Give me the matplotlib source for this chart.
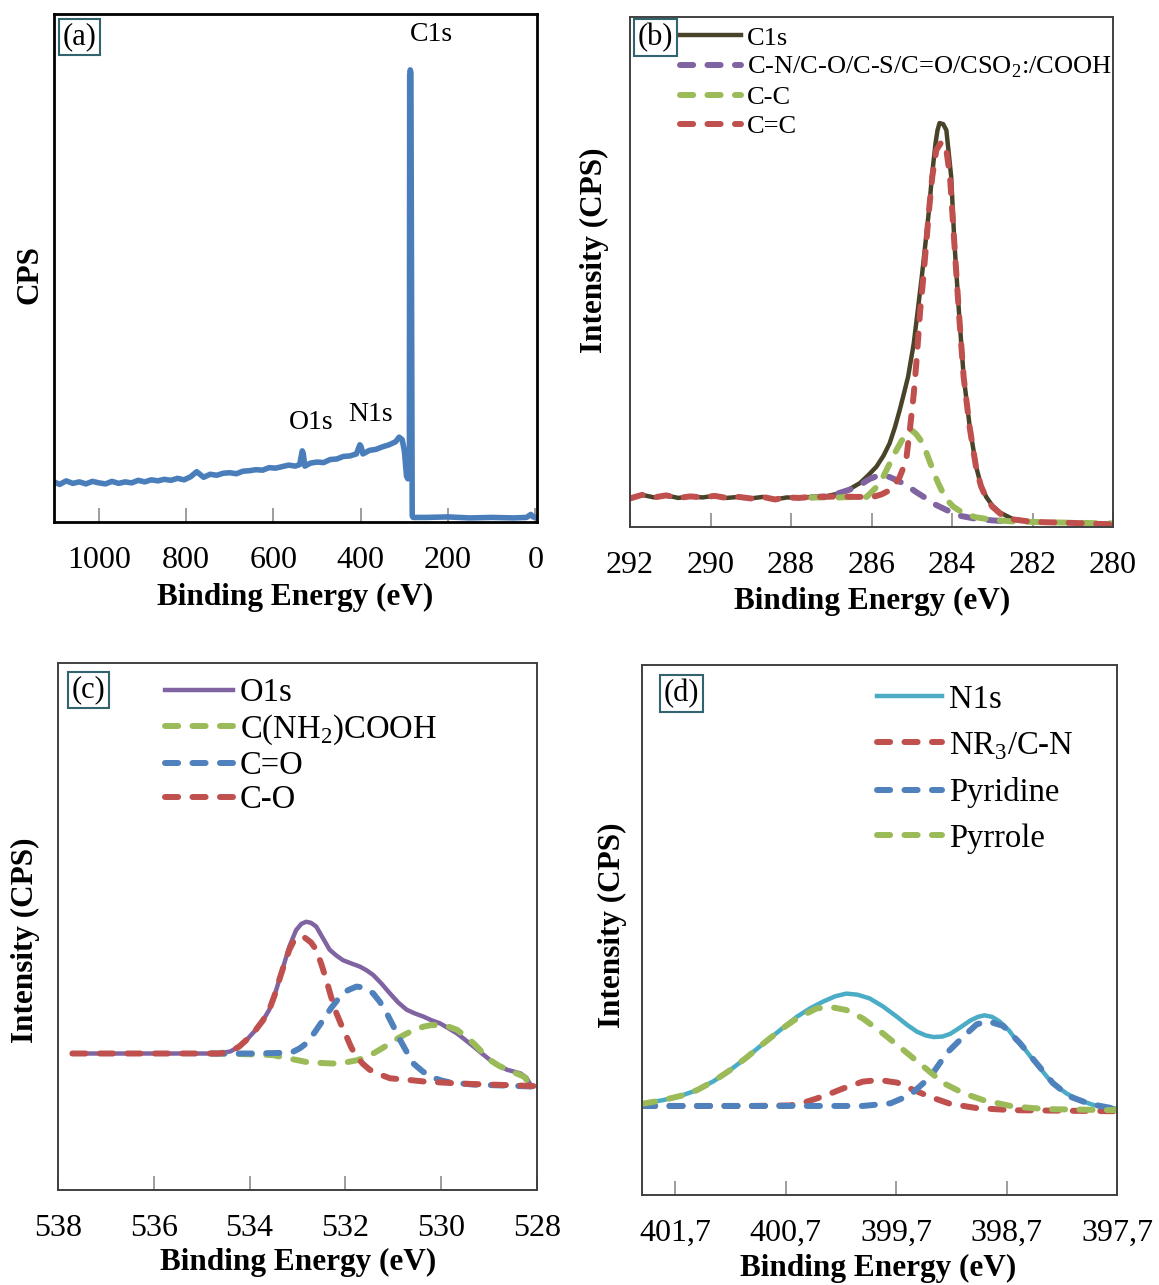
import matplotlib.pyplot as plt

plt.rcParams['font.family'] = ['Liberation Serif', 'DejaVu Serif']
plt.rcParams['mathtext.fontset'] = 'custom'
plt.rcParams['mathtext.rm'] = 'Liberation Serif'

# ---------------- (a) survey spectrum ----------------
a_energy = [1103, 1090, 1075, 1060, 1045, 1030, 1015, 1000, 985, 970, 955, 940, 925, 910,
            895, 880, 865, 850, 835, 820, 805, 790, 776, 760, 745, 730, 715, 700, 685, 670,
            655, 640, 625, 610, 595, 580, 565, 550, 540, 534, 532, 528, 515, 500, 485, 470,
            455, 440, 425, 410, 402, 399, 395, 380, 365, 350, 335, 320, 312, 305, 300, 295,
            292, 290, 288.5, 287.8, 286.5, 285, 282, 280, 250, 200, 150, 100, 50, 20, 10, 5, -4]
a_cps = [7.9, 7.4, 8.1, 7.6, 7.9, 7.5, 8.0, 7.7, 7.5, 8.0, 7.6, 7.9, 7.7, 8.2,
         7.9, 8.3, 8.1, 8.4, 8.2, 8.6, 8.3, 8.9, 9.9, 8.8, 9.4, 9.2, 9.6, 9.7, 9.5, 10.0,
         10.1, 10.3, 10.2, 10.7, 10.6, 10.9, 11.2, 11.0, 11.3, 14.0, 13.6, 11.0, 11.6, 11.8, 11.7, 12.3,
         12.4, 12.9, 13.0, 13.4, 15.2, 14.8, 13.4, 14.1, 14.3, 14.8, 15.2, 15.8, 16.7, 16.2, 14.0, 9.0,
         8.5, 10.2, 11.5, 88.0, 89.0, 88.5, 1.2, 0.9, 0.9, 1.0, 0.8, 0.9, 0.8, 0.9, 1.5, 1.0, 0.9]
a_ticks = [1000, 800, 600, 400, 200, 0]
a_peaks = ['C1s', 'O1s', 'N1s']
a_peak_pos = [(239, 95.9), (514, 19.5), (377, 21.1)]

# ---------------- (b) C1s ----------------
b_c1s_e = [292.0, 291.7, 291.4, 291.1, 290.8, 290.5, 290.2, 289.9, 289.6, 289.3, 289.0, 288.7,
           288.4, 288.1, 287.8, 287.5, 287.2, 286.79, 286.55, 286.29, 286.1, 285.88, 285.7,
           285.55, 285.42, 285.3, 285.2, 285.09, 284.95, 284.85, 284.75, 284.66, 284.57,
           284.5, 284.41, 284.36, 284.31, 284.22, 284.14, 284.02, 283.94, 283.83, 283.71,
           283.56, 283.4, 283.28, 283.15, 283.0, 282.8, 282.5, 282.0, 281.0, 280.0]
b_c1s = [5.6, 6.3, 5.8, 6.2, 5.7, 6.0, 5.8, 6.1, 5.7, 5.9, 5.6, 5.9,
         5.4, 5.8, 5.7, 5.9, 5.9, 6.6, 7.4, 8.6, 10.0, 11.8, 14.0,
         16.4, 19.5, 22.9, 26.0, 29.5, 36.0, 42.5, 49.1, 55.6, 62.2,
         68.7, 75.2, 77.8, 79.2, 79.0, 77.8, 68.7, 55.7, 42.5, 29.5,
         19.7, 11.8, 8.2, 5.9, 4.2, 2.8, 1.6, 1.0, 0.8, 0.6]
b_cc2_e = [292.0, 291.7, 291.4, 291.1, 290.8, 290.5, 290.2, 289.9, 289.6, 289.3, 289.0, 288.7,
           288.4, 288.1, 287.8, 287.5, 287.2, 286.79, 286.4, 285.96, 285.75, 285.55, 285.42,
           285.3, 285.2, 285.13, 285.04, 284.95, 284.88, 284.79, 284.71, 284.64, 284.57,
           284.49, 284.39, 284.26, 284.15, 284.05, 283.94, 283.83, 283.71, 283.56, 283.4,
           283.28, 283.15, 283.0, 282.8, 282.5, 282.0, 281.0, 280.0]
b_cc2 = [5.6, 6.3, 5.8, 6.2, 5.7, 6.0, 5.8, 6.1, 5.7, 5.9, 5.6, 5.9,
         5.4, 5.8, 5.7, 5.9, 5.9, 6.0, 5.9, 5.9, 6.4, 7.2, 8.3,
         9.8, 11.8, 13.7, 19.6, 26.1, 32.7, 42.5, 49.1, 55.6, 62.2,
         68.7, 73.9, 75.5, 74.5, 68.7, 55.4, 42.2, 29.3, 19.5, 11.6,
         8.0, 5.7, 4.0, 2.6, 1.5, 1.0, 0.8, 0.5]
b_cc_e = [287.5, 286.8, 286.4, 286.12, 285.88, 285.7, 285.55, 285.4, 285.25, 285.12, 285.01,
          284.9, 284.72, 284.6, 284.47, 284.35, 284.22, 284.1, 283.97, 283.7, 283.4, 283.0,
          282.5, 281.5, 280.0]
b_cc = [5.8, 5.8, 5.9, 5.9, 7.8, 10.0, 12.4, 14.8, 16.9, 18.4, 19.0,
        18.3, 16.4, 13.8, 11.1, 8.7, 6.6, 5.1, 4.0, 2.6, 1.9, 1.4,
        1.1, 0.9, 0.7]
b_cn_e = [287.5, 287.0, 286.79, 286.55, 286.29, 286.05, 285.8, 285.55, 285.3, 285.13, 284.9,
          284.64, 284.39, 284.1, 283.8, 283.4, 283.0, 282.6]
b_cn = [5.8, 6.1, 6.7, 7.3, 8.2, 9.4, 10.2, 9.8, 8.9, 8.2, 6.9,
        5.6, 4.3, 3.2, 2.2, 1.6, 1.3, 1.1]
b_ticks = [292, 290, 288, 286, 284, 282, 280]

# ---------------- (c) O1s ----------------
c_o1s_e = [537.7, 536.0, 535.0, 534.64, 534.4, 534.22, 534.05, 533.87, 533.72, 533.59, 533.48,
           533.38, 533.27, 533.17, 533.03, 532.92, 532.82, 532.72, 532.61, 532.47, 532.33,
           532.19, 532.05, 531.88, 531.7, 531.56, 531.42, 531.25, 531.07, 530.9, 530.72,
           530.55, 530.37, 530.2, 530.02, 529.85, 529.67, 529.5, 529.32, 529.15, 528.97,
           528.8, 528.62, 528.45, 528.34, 528.22, 528.13]
c_o1s = [25.9, 25.9, 25.9, 25.9, 26.3, 27.2, 28.6, 30.4, 32.2, 34.2, 36.9,
         39.9, 43.2, 46.2, 49.3, 50.5, 50.9, 50.7, 50.0, 47.8, 45.6,
         44.5, 43.6, 43.0, 42.4, 41.7, 40.8, 39.2, 37.3, 35.6, 34.2,
         33.5, 32.9, 32.2, 31.6, 30.7, 29.7, 28.5, 27.2, 25.9, 24.6,
         23.6, 22.8, 22.4, 22.1, 21.3, 19.9]
c_nh2_e = [534.8, 534.2, 533.8, 533.52, 533.2, 532.82, 532.5, 532.26, 532.0, 531.77, 531.6,
           531.42, 531.25, 531.07, 530.9, 530.72, 530.55, 530.37, 530.2, 530.02, 529.85,
           529.67, 529.5, 529.32, 529.15, 528.97, 528.8, 528.62, 528.45, 528.27, 528.13]
c_nh2 = [25.9, 25.8, 25.7, 25.6, 25.0, 24.3, 24.1, 24.0, 24.2, 24.6, 25.1,
         25.9, 26.8, 27.8, 28.8, 29.7, 30.4, 31.0, 31.3, 31.3, 31.0,
         30.4, 29.2, 27.8, 26.2, 24.6, 23.6, 22.8, 22.2, 21.5, 19.9]
c_co2_e = [534.8, 534.0, 533.4, 533.1, 532.95, 532.82, 532.65, 532.47, 532.3, 532.12, 531.95,
           531.77, 531.6, 531.42, 531.28, 531.14, 531.0, 530.86, 530.72, 530.58, 530.4,
           530.23, 530.0, 529.81, 529.32, 528.6, 528.0]
c_co2 = [25.9, 25.9, 26.0, 26.2, 26.9, 27.8, 29.8, 32.2, 34.5, 36.6, 37.9,
         38.6, 38.4, 37.3, 35.7, 33.6, 31.1, 28.5, 26.2, 24.0, 22.6,
         21.5, 20.8, 20.4, 20.0, 19.8, 19.6]
c_co_e = [537.7, 536.0, 535.0, 534.64, 534.4, 534.22, 534.05, 533.87, 533.72, 533.59, 533.48,
          533.38, 533.27, 533.17, 533.08, 532.96, 532.85, 532.72, 532.61, 532.5, 532.4,
          532.3, 532.19, 532.08, 531.98, 531.88, 531.77, 531.63, 531.49, 531.3, 531.07,
          530.7, 530.37, 529.8, 529.32, 528.6, 528.0]
c_co = [25.9, 25.9, 25.9, 25.9, 26.3, 27.2, 28.6, 30.4, 32.2, 34.2, 36.9,
        39.9, 43.0, 45.6, 47.2, 48.1, 47.9, 47.0, 45.6, 42.8, 39.9,
        36.7, 33.6, 31.2, 29.2, 27.1, 25.3, 23.9, 22.8, 22.0, 21.2,
        20.9, 20.6, 20.3, 20.1, 19.9, 19.7]
c_ticks = [538, 536, 534, 532, 530, 528]

# ---------------- (d) N1s ----------------
d_n1s_e = [402.0, 401.81, 401.65, 401.5, 401.35, 401.2, 401.05, 400.9, 400.75, 400.6, 400.48,
           400.36, 400.25, 400.15, 400.05, 399.94, 399.82, 399.69, 399.6, 399.51, 399.43,
           399.36, 399.28, 399.21, 399.12, 399.03, 398.96, 398.9, 398.83, 398.76, 398.68,
           398.61, 398.53, 398.46, 398.38, 398.31, 398.23, 398.16, 398.08, 398.01, 397.93,
           397.86, 397.7]
d_n1s = [17.2, 17.9, 18.7, 19.8, 21.5, 23.6, 26.0, 28.6, 31.1, 33.6, 35.2,
         36.5, 37.5, 38.0, 37.8, 37.1, 35.6, 33.6, 32.1, 30.8, 30.1,
         29.8, 29.9, 30.4, 31.6, 32.9, 33.6, 33.9, 33.6, 32.7, 31.1,
         29.2, 27.4, 25.5, 23.5, 21.7, 20.3, 19.2, 18.3, 17.7, 17.1,
         16.7, 16.3]
d_pyrrole_e = [402.0, 401.81, 401.65, 401.5, 401.35, 401.2, 401.05, 400.9, 400.75, 400.6,
               400.42, 400.3, 400.15, 400.0, 399.82, 399.63, 399.45, 399.27, 399.09, 398.91,
               398.64, 398.34, 397.7]
d_pyrrole = [17.2, 17.9, 18.7, 19.8, 21.5, 23.6, 26.0, 28.6, 31.1, 33.3,
             35.2, 35.5, 34.9, 33.3, 30.5, 27.3, 24.2, 21.1, 19.2, 17.9,
             16.7, 16.2, 16.0]
d_nr3_e = [402.0, 401.0, 400.66, 400.54, 400.42, 400.3, 400.18, 400.0, 399.85, 399.69, 399.54,
           399.39, 399.21, 398.97, 398.64, 397.7]
d_nr3 = [16.8, 16.8, 16.9, 17.4, 18.2, 19.1, 20.1, 21.4, 21.7, 21.2, 19.8,
         18.5, 17.2, 16.4, 16.0, 15.8]
d_pyr_e = [402.0, 401.0, 400.0, 399.75, 399.57, 399.39, 399.24, 399.09, 398.97, 398.87, 398.73,
           398.58, 398.43, 398.28, 398.13, 397.95, 397.7]
d_pyr = [16.8, 16.8, 16.8, 17.3, 18.9, 22.3, 26.8, 29.9, 32.2, 32.8, 31.9,
         28.7, 24.9, 21.1, 18.6, 17.2, 16.2]
d_ticks = [401.7, 400.7, 399.7, 398.7, 397.7]
d_ticklabels = ['401,7', '400,7', '399,7', '398,7', '397,7']

# colours (Excel palette)
BLUE_A = '#4a7ebb'
OLIVE = '#494429'
PURPLE = '#8064a2'
GREEN = '#9bbb59'
RED = '#c0504d'
BLUE = '#4f81bd'
AQUA = '#4bacc6'
BOX = '#31646e'

W, H = 1159, 1285
fig = plt.figure(figsize=(W / 100, H / 100), dpi=100)


def px_axes(l, t, r, b):
    return fig.add_axes([l / W, 1 - b / H, (r - l) / W, (b - t) / H])


def style(ax, xlim, ticks, labels, fc='#404040', flw=1.4):
    ax.set_xlim(*xlim)
    ax.set_ylim(0, 100)
    ax.set_xticks(ticks)
    ax.set_xticklabels(labels)
    ax.set_yticks([])
    ax.tick_params(axis='x', direction='in', length=10, width=1.2, color='#8c8c8c',
                   pad=17, labelsize=23)
    for s in ax.spines.values():
        s.set_color(fc)
        s.set_linewidth(flw)


def panel_tag(ax, txt, x, y):
    ax.text(x, y, txt, transform=ax.transAxes, ha='center', va='center', fontsize=22,
            bbox=dict(boxstyle='square,pad=0.12', fc='white', ec=BOX, lw=1.5), zorder=10)


dash = dict(linestyle=(0, (2.2, 2.4)), dash_capstyle='round', lw=4.3)
SOLID_LW = 3.2

# (a)
ax = px_axes(54, 14, 537, 522)
ax.plot(a_energy, a_cps, color=BLUE_A, lw=4, solid_joinstyle='round')
style(ax, (1103, -4), a_ticks, [str(t) for t in a_ticks], fc='black', flw=2)
for name, (xx, yy) in zip(a_peaks, a_peak_pos):
    ax.text(xx, yy, name, ha='center', va='center', fontsize=20)
panel_tag(ax, '(a)', 0.052, 0.955)
fig.text(30 / W, 1 - 275 / H, 'CPS', rotation=90, ha='center', va='center',
         fontsize=22.5, fontweight='bold')
fig.text(295 / W, 1 - 597 / H, 'Binding Energy (eV)', ha='center', va='center',
         fontsize=22.5, fontweight='bold')

# (b)
ax = px_axes(630, 17, 1113, 527)
ax.plot(b_c1s_e, b_c1s, color=OLIVE, lw=SOLID_LW, label='C1s')
ax.plot(b_cn_e, b_cn, color=PURPLE, label='C-N/C-O/C-S/C=O/CSO$_\\mathrm{2}$:/COOH', **dash)
ax.plot(b_cc_e, b_cc, color=GREEN, label='C-C', **dash)
ax.plot(b_cc2_e, b_cc2, color=RED, label='C=C', **dash)
style(ax, (292, 280), b_ticks, [str(t) for t in b_ticks])
ax.legend(loc='upper left', bbox_to_anchor=(0.1035, 0.982), frameon=False, fontsize=19,
          borderpad=0, borderaxespad=0, handlelength=2.3, handletextpad=0.25,
          labelspacing=0.2)
panel_tag(ax, '(b)', 0.0528, 0.96)
fig.text(594 / W, 1 - 250 / H, 'Intensity (CPS)', rotation=90, ha='center', va='center',
         fontsize=22.5, fontweight='bold')
fig.text(872 / W, 1 - 601 / H, 'Binding Energy (eV)', ha='center', va='center',
         fontsize=22.5, fontweight='bold')

# (c)
ax = px_axes(58, 663, 537, 1190)
ax.plot(c_o1s_e, c_o1s, color=PURPLE, lw=SOLID_LW, label='O1s')
ax.plot(c_nh2_e, c_nh2, color=GREEN, label='C(NH$_\\mathrm{2}$)COOH', **dash)
ax.plot(c_co2_e, c_co2, color=BLUE, label='C=O', **dash)
ax.plot(c_co_e, c_co, color=RED, label='C-O', **dash)
style(ax, (538, 528), c_ticks, [str(t) for t in c_ticks])
ax.legend(loc='upper left', bbox_to_anchor=(0.2228, 0.972), frameon=False, fontsize=23.5,
          borderpad=0, borderaxespad=0, handlelength=2.1, handletextpad=0.2,
          labelspacing=0.12)
panel_tag(ax, '(c)', 0.063, 0.949)
fig.text(25 / W, 1 - 940 / H, 'Intensity (CPS)', rotation=90, ha='center', va='center',
         fontsize=22.5, fontweight='bold')
fig.text(298 / W, 1 - 1262 / H, 'Binding Energy (eV)', ha='center', va='center',
         fontsize=22.5, fontweight='bold')

# (d)
ax = px_axes(642, 665, 1117, 1195)
ax.plot(d_n1s_e, d_n1s, color=AQUA, lw=SOLID_LW, label='N1s')
ax.plot(d_nr3_e, d_nr3, color=RED, label='NR$_\\mathrm{3}$/C-N', **dash)
ax.plot(d_pyr_e, d_pyr, color=BLUE, label='Pyridine', **dash)
ax.plot(d_pyrrole_e, d_pyrrole, color=GREEN, label='Pyrrole', **dash)
style(ax, (402.0, 397.7), d_ticks, d_ticklabels)
ax.legend(loc='upper left', bbox_to_anchor=(0.4947, 0.964), frameon=False, fontsize=23.5,
          borderpad=0, borderaxespad=0, handlelength=2.0, handletextpad=0.22,
          labelspacing=0.47)
panel_tag(ax, '(d)', 0.0837, 0.946)
fig.text(612 / W, 1 - 925 / H, 'Intensity (CPS)', rotation=90, ha='center', va='center',
         fontsize=22.5, fontweight='bold')
fig.text(878 / W, 1 - 1268 / H, 'Binding Energy (eV)', ha='center', va='center',
         fontsize=22.5, fontweight='bold')

fig.savefig('out.png', dpi=100)
